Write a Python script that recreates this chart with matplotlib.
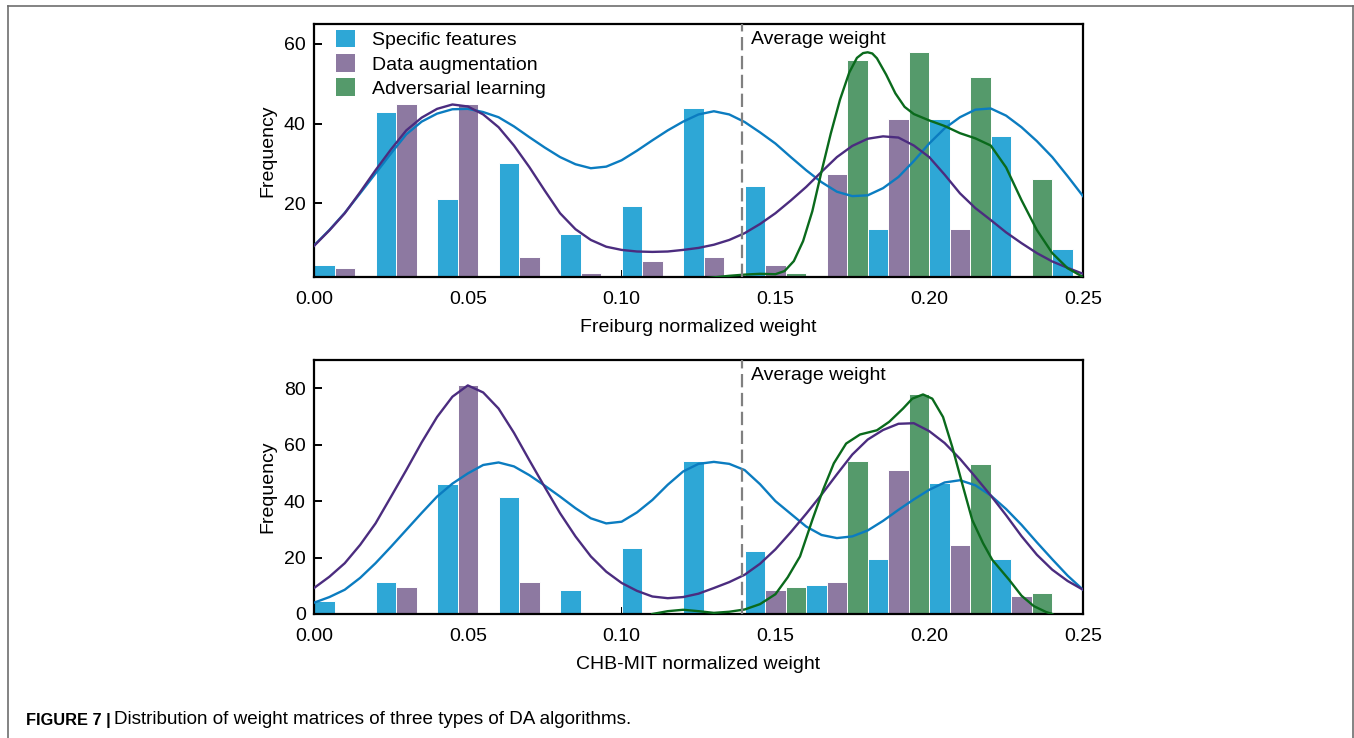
import numpy as np
import matplotlib
matplotlib.use("Agg")
import matplotlib.pyplot as plt
from matplotlib.lines import Line2D
from matplotlib.patches import Patch
from matplotlib.transforms import blended_transform_factory
from matplotlib import font_manager

plt.rcParams['font.family'] = ['Liberation Sans', 'DejaVu Sans']

# ---- data ----
series = ['Specific features', 'Data augmentation', 'Adversarial learning']
bar_colors = ['#2ea7d6', '#8d79a1', '#559a6b']
line_colors = ['#0b7cc0', '#4b2c7f', '#0a6a1c']

bin_starts = [0.00, 0.02, 0.04, 0.06, 0.08, 0.10, 0.12, 0.14, 0.16, 0.18, 0.20, 0.22, 0.24]
bin_width = 0.02
avg_weight = 0.139

freiburg_specific = [4.5, 43, 21, 30, 12.3, 19.3, 44, 24.3, 0, 13.5, 41.2, 37, 8.5]
freiburg_augment = [3.7, 45, 45, 6.5, 2.5, 5.4, 6.5, 4.5, 27.3, 41.2, 13.5, 0, 0]
freiburg_advers = [0, 0, 0, 0, 0, 0, 0, 2.5, 56, 57.9, 51.8, 26.2, 0]

chb_specific = [4.5, 11.5, 46, 41.3, 8.6, 23.3, 54.3, 22.4, 10.4, 19.4, 46.3, 19.4, 0]
chb_augment = [0, 9.5, 81.3, 11.5, 0, 0, 1.2, 8.6, 11.5, 51.2, 24.5, 6.5, 0]
chb_advers = [0, 0, 0, 0, 0, 0, 0, 9.4, 54.3, 78.1, 53.1, 7.6, 0]

# density curves (already scaled to counts), read at 0.005 steps
kde_x = [round(0.005 * i, 3) for i in range(51)]

freiburg_kde_specific = [9.4, 13.3, 17.6, 22.5, 27.5, 32.5, 37.3, 40.5, 42.5, 43.6,
                         43.7, 42.9, 41.6, 39.3, 36.6, 34.0, 31.6, 29.8, 28.8, 29.2,
                         30.8, 33.2, 35.8, 38.3, 40.5, 42.3, 43.1, 42.3, 40.4, 37.8,
                         35.0, 31.6, 28.3, 25.3, 22.9, 21.8, 22.0, 23.8, 26.6, 30.6,
                         35.0, 38.8, 41.6, 43.5, 43.8, 42.0, 39.1, 35.6, 31.6, 26.8, 21.8]
freiburg_kde_augment = [9.3, 13.2, 17.5, 22.8, 28.3, 33.5, 38.3, 41.5, 43.7, 44.8,
                        44.3, 42.3, 39.1, 34.5, 29.1, 23.2, 17.5, 13.5, 10.8, 9.1,
                        8.3, 7.9, 7.8, 7.9, 8.3, 8.8, 9.6, 10.8, 12.5, 14.8,
                        17.5, 20.7, 24.1, 27.9, 31.6, 34.4, 36.2, 36.8, 36.5, 34.5,
                        31.6, 27.2, 22.5, 18.8, 15.8, 12.7, 10.0, 7.5, 5.4, 3.8, 2.3]
freiburg_kde_advers_x = [0.120, 0.125, 0.130, 0.135, 0.140, 0.145, 0.150, 0.153, 0.156,
                         0.159, 0.162, 0.165, 0.168, 0.171, 0.174, 0.1765, 0.1785,
                         0.180, 0.1815, 0.183, 0.186, 0.189, 0.192, 0.195, 0.200,
                         0.205, 0.210, 0.215, 0.220, 0.225, 0.230, 0.235, 0.240,
                         0.245, 0.250]
freiburg_kde_advers = [0.6, 1.0, 1.4, 1.8, 2.1, 2.3, 2.2, 3.0, 5.5,
                       10.5, 18.0, 28.0, 37.5, 46.0, 52.8, 56.5, 57.7,
                       57.9, 57.6, 56.4, 52.3, 47.6, 44.2, 42.4, 40.8,
                       39.4, 37.6, 36.3, 34.5, 29.0, 20.8, 13.3, 7.5,
                       3.7, 1.5]

chb_kde_specific = [4.0, 6.0, 8.6, 12.8, 18.0, 23.8, 29.8, 35.8, 41.6, 46.2,
                    49.8, 52.8, 53.7, 52.3, 49.2, 45.5, 41.6, 37.5, 33.9, 32.1,
                    32.7, 36.0, 40.4, 45.8, 50.5, 53.2, 53.9, 53.2, 51.0, 46.0,
                    40.0, 35.5, 31.0, 28.0, 26.9, 27.5, 29.6, 33.0, 36.9, 40.6,
                    44.0, 46.6, 47.4, 45.6, 42.0, 37.2, 31.6, 25.4, 19.4, 13.6, 8.6]
chb_kde_augment = [9.2, 13.2, 18.0, 24.5, 32.1, 41.5, 51.0, 60.8, 69.8, 77.0,
                   81.0, 78.5, 72.8, 64.2, 54.5, 45.0, 35.7, 27.5, 20.4, 15.0,
                   11.0, 8.2, 6.2, 5.6, 6.0, 7.2, 9.2, 11.3, 13.9, 17.8,
                   22.9, 29.0, 35.5, 42.3, 49.5, 56.5, 61.8, 65.2, 67.4, 67.6,
                   64.8, 60.6, 55.0, 48.6, 42.0, 35.0, 27.6, 21.0, 15.7, 11.7, 8.6]
chb_kde_advers_x = [0.110, 0.115, 0.120, 0.125, 0.130, 0.135, 0.140, 0.145, 0.150,
                    0.154, 0.158, 0.162, 0.1655, 0.169, 0.173, 0.1775, 0.183, 0.187,
                    0.1915, 0.1945, 0.198, 0.201, 0.2045, 0.2075, 0.211, 0.214,
                    0.2175, 0.2205, 0.226, 0.230, 0.234, 0.238, 0.240]
chb_kde_advers = [0.0, 1.0, 1.5, 1.0, 0.4, 0.8, 1.6, 3.5, 7.0,
                  13.0, 20.4, 33.3, 44.0, 53.4, 60.4, 63.6, 65.1, 68.1,
                  72.8, 76.3, 77.8, 76.3, 69.8, 59.2, 45.1, 33.3,
                  25.1, 19.2, 12.1, 6.5, 2.8, 0.7, 0.0]

W, H = 1354, 738
fig = plt.figure(figsize=(W / 100, H / 100), dpi=100)
ax1 = fig.add_axes([314 / W, 1 - 277 / H, 769 / W, 253 / H])
ax2 = fig.add_axes([314 / W, 1 - 614 / H, 769 / W, 254 / H])


def draw_panel(ax, counts, curves, ylim, yticks, xlabel):
    bw = bin_width / 3
    for i, vals in enumerate(counts):
        xs = [b + i * bw for b in bin_starts]
        ax.bar(xs, vals, width=bw, align='edge', color=bar_colors[i],
               edgecolor='white', linewidth=0.7, zorder=2)
    for i, (cx, cy) in enumerate(curves):
        ax.plot(cx, cy, color=line_colors[i], lw=1.7, zorder=3 + i,
                solid_joinstyle='round')
    ax.axvline(avg_weight, color='#808080', lw=1.6, dashes=(6, 2.5), zorder=6)
    tr = blended_transform_factory(ax.transData, ax.transAxes)
    ax.text(avg_weight + 0.003, 0.938, 'Average weight', transform=tr,
            ha='left', va='center', fontsize=14, zorder=7)
    ax.set_xlim(0, 0.25)
    ax.set_ylim(*ylim)
    ax.set_xticks([0.00, 0.05, 0.10, 0.15, 0.20, 0.25])
    ax.set_xticklabels(['0.00', '0.05', '0.10', '0.15', '0.20', '0.25'])
    ax.set_yticks(yticks)
    ax.tick_params(axis='both', direction='in', labelsize=14, width=1.4)
    ax.tick_params(axis='x', length=5, pad=10)
    ax.tick_params(axis='y', length=6, pad=6)
    for s in ax.spines.values():
        s.set_linewidth(1.6)
    ax.set_xlabel(xlabel, fontsize=14, labelpad=8)
    ax.set_ylabel('Frequency', fontsize=14, labelpad=5)


draw_panel(ax1, [freiburg_specific, freiburg_augment, freiburg_advers],
           [(kde_x, freiburg_kde_specific), (kde_x, freiburg_kde_augment),
            (freiburg_kde_advers_x, freiburg_kde_advers)],
           (1.5, 65), [20, 40, 60], 'Freiburg normalized weight')
draw_panel(ax2, [chb_specific, chb_augment, chb_advers],
           [(kde_x, chb_kde_specific), (kde_x, chb_kde_augment),
            (chb_kde_advers_x, chb_kde_advers)],
           (0, 90), [0, 20, 40, 60, 80], 'CHB-MIT normalized weight')

handles = [Patch(facecolor=c, edgecolor='none') for c in bar_colors]
ax1.legend(handles, series, loc='upper left', bbox_to_anchor=(22 / 769, 1 - 6 / 253),
           frameon=False, fontsize=14, handlelength=1.0, handleheight=1.0,
           handletextpad=0.85, labelspacing=0.25, borderpad=0, borderaxespad=0)

# page frame around the figure
fc = '#6e6e6e'
fig.add_artist(Line2D([8 / W, 1352.5 / W], [1 - 6.3 / H, 1 - 6.3 / H],
                      transform=fig.transFigure, color=fc, lw=1.2))
fig.add_artist(Line2D([8 / W, 8 / W], [0, 1 - 6.3 / H],
                      transform=fig.transFigure, color=fc, lw=1.2))
fig.add_artist(Line2D([1352.5 / W, 1352.5 / W], [0, 1 - 6.3 / H],
                      transform=fig.transFigure, color=fc, lw=1.2))

# caption
try:
    font_manager.findfont('Liberation Sans Narrow', fallback_to_default=False)
    cap_family = ['Liberation Sans Narrow', 'DejaVu Sans']
except Exception:
    cap_family = ['Liberation Sans', 'DejaVu Sans']

fig.canvas.draw()
r = fig.canvas.get_renderer()
t1 = fig.text(26 / W, 1 - 720 / H, 'FIGURE 7 |', fontweight='bold', fontsize=11,
              va='center', ha='left', family=cap_family)
w1 = t1.get_window_extent(r).width
t1.set_fontsize(11 * 84 / w1)
bb1 = t1.get_window_extent(r)
t2 = fig.text((bb1.x1 + 3) / W, 1 - 720 / H,
              'Distribution of weight matrices of three types of DA algorithms.',
              fontsize=11, va='center', ha='left', family=cap_family)
w2 = t2.get_window_extent(r).width
t2.set_fontsize(11 * 519 / w2)

fig.savefig('out.png', dpi=100)
